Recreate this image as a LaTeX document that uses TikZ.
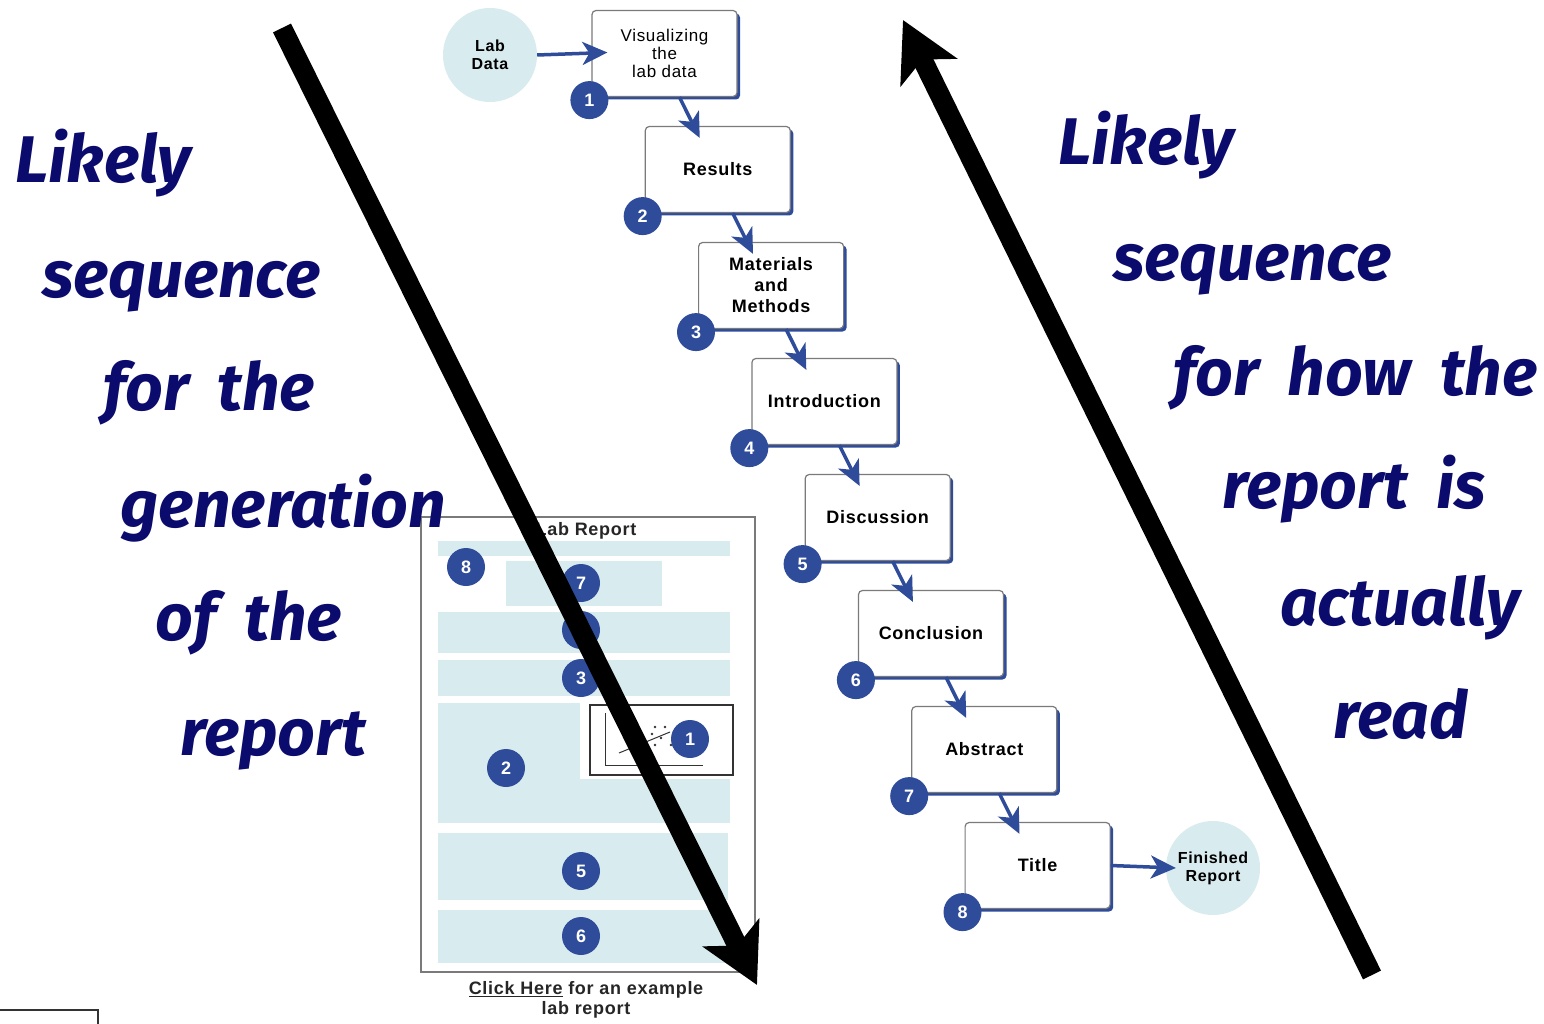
\documentclass[tikz,border=0pt]{standalone}
\usepackage{fontspec}
\setmainfont{Liberation Sans}
\newfontfamily\boxfont{Liberation Sans}[LetterSpace=4]
\newfontfamily\handfont{Fira Sans}[WordSpace=1.9]
\usepackage{tikz}
\usetikzlibrary{calc,shapes,positioning,shadows}
\usetikzlibrary{arrows.meta}
\definecolor{navy}{HTML}{0B0B6E}
\definecolor{badgeblue}{HTML}{2F4C9A}
\definecolor{paleblue}{HTML}{D8EBEE}
\definecolor{boxgray}{HTML}{7A7A7A}

\begin{document}
\begin{tikzpicture}[x=1pt,y=-1pt]
      \tikzstyle{bnode} = [draw=boxgray, line width=1.2pt, fill=white, rounded corners=4pt, minimum width=145pt, minimum height=86pt, inner sep=2pt, align=center, font=\boxfont\fontsize{18}{21}\selectfont\bfseries, drop shadow={shadow xshift=3pt, shadow yshift=-3pt, fill=badgeblue, opacity=1}]
      \tikzstyle{plainbox} = []
      \tikzstyle{thinbox} = [font=\boxfont\fontsize{17}{18}\selectfont]
      \tikzstyle{badge} = [circle, fill=badgeblue, text=white, minimum size=38pt, inner sep=0pt, font=\boxfont\fontsize{18}{18}\selectfont\bfseries]
      \tikzstyle{cnode} = [circle, fill=paleblue, minimum size=94pt, inner sep=0pt, align=center, font=\boxfont\fontsize{16}{18}\selectfont\bfseries]
      \tikzstyle{barrow} = [draw=badgeblue, line width=3.5pt, -{Stealth[length=25pt, width=23pt, inset=7pt]}]
      \tikzstyle{bigarrow} = [line width=20pt, -{Stealth[length=58pt, width=62pt, inset=14pt]}]
      \tikzstyle{hand} = [navy, anchor=base west, inner sep=0pt, font=\handfont\fontsize{66}{66}\selectfont\bfseries\itshape]

      \useasboundingbox (0,0) rectangle (1544,1024);
      \fill[white] (0,0) rectangle (1544,1024);

      % writing steps
      \foreach \i/\look/\txt in {1/thinbox/{Visualizing\\the\\lab data}, 2/plainbox/Results, 3/plainbox/{Materials\\and\\Methods}, 4/plainbox/Introduction, 5/plainbox/Discussion, 6/plainbox/Conclusion, 7/plainbox/Abstract, 8/plainbox/Title}
        \node[bnode, \look] (box\i) at ({664.5+(\i-1)*53.3}, {53.5+(\i-1)*116}) {\txt};
      \foreach \i in {1,...,8}
        \node[badge] (badge\i) at ($(box\i.south west)+(-2,3)$) {\i};

      \node[cnode] (labdata) at (490,55) {Lab\\Data};
      \node[cnode] (finished) at (1213,868) {Finished\\Report};

      % connections
      \draw[barrow] (labdata.east) -- ($(box1.west)+(16,-1)$);
      \foreach \i [evaluate=\i as \j using int(\i+1)] in {1,...,7}
        \draw[barrow] ($(box\i.south west)+(88,0)$) -- ($(box\j.north west)+(55,12)$);
      \draw[barrow] (box8.east) -- ($(finished.west)+(10,0)$);

      % lab report sheet
      \node[draw=boxgray, line width=1.5pt, minimum width=334pt, minimum height=455pt, inner sep=0pt] (sheet) at (588,744.5) {};
      \node[font=\boxfont\fontsize{18}{18}\selectfont\bfseries, text=black!85] (sheettitle) at (586,531) {Lab Report};
      \fill[paleblue] (438,541) rectangle (730,556);
      \fill[paleblue] (506,561) rectangle (662,606);
      \fill[paleblue] (438,612) rectangle (730,653);
      \fill[paleblue] (438,660) rectangle (730,696);
      \fill[paleblue] (438,703) rectangle (730,823);
      \fill[white] (580,703) rectangle (731,779);
      \fill[paleblue] (438,833) rectangle (728,900);
      \fill[paleblue] (438,910) rectangle (728,963);
      \draw[line width=1.2pt, black!80] (590,705) rectangle (733,775);
      \draw[line width=1pt, black!80] (605,713) -- (605,765) -- (703,765);
      \draw[line width=1pt, black!80] (619,753) -- (670,732);
      \foreach \p in {(655,727), (665,727), (652,734), (661,738), (655,745), (671,745), (644,741)}
        \fill[black!80] \p circle (1.3);

      \node[badge] (sheet8) at (466,567) {8};
      \node[badge] (sheet7) at (581,583) {7};
      \node[badge] (sheet4) at (581,630) {4};
      \node[badge] (sheet3) at (581,678) {3};
      \node[badge] (sheet1) at (690,739) {1};
      \node[badge] (sheet2) at (506,768) {2};
      \node[badge] (sheet5) at (581,871) {5};
      \node[badge] (sheet6) at (581,936) {6};

      \node[align=center, text=black!85, font=\boxfont\fontsize{18}{20}\selectfont\bfseries] (caption) at (586,1000) {\underline{Click Here} for an example\\lab report};

      % corner frame
      \draw[line width=2.5pt, black!80] (0,1010) -- (98,1010) -- (98,1030);

      % big arrows
      \coordinate (genstart) at (282,28);
      \coordinate (genend) at (757,985);
      \coordinate (readstart) at (1372,975);
      \coordinate (readend) at (903,20);
      \draw[bigarrow] (genstart) -- (genend);
      \draw[bigarrow] (readstart) -- (readend);

      % left text
      \node[hand] (gen1) at (15,183) {Likely};
      \node[hand] (gen2) at (42,298) {sequence};
      \node[hand] (gen3) at (103,410) {for the};
      \node[hand] (gen4) at (120,527) {generation};
      \node[hand] (gen5) at (155,640) {of the};
      \node[hand] (gen6) at (180,755) {report};
      % right text
      \node[hand] (read1) at (1058,165) {Likely};
      \node[hand] (read2) at (1113,280) {sequence};
      \node[hand] (read3) at (1173,395) {for how the};
      \node[hand] (read4) at (1222,508) {report is};
      \node[hand] (read5) at (1280,625) {actually};
      \node[hand] (read6) at (1333,738) {read};
\end{tikzpicture}
\end{document}
